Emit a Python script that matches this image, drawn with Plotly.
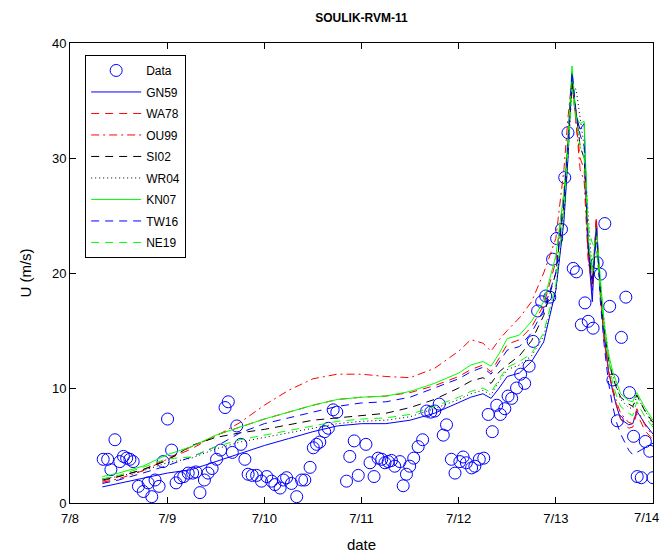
import pandas as pd
import plotly.graph_objects as go

# Model time grid: hours after 2013-07-08 00:00
hours = [8, 12, 18, 24, 30, 36, 42, 48, 54, 60,
         66, 72, 78, 84, 90, 96, 99, 102, 104, 106,
         108, 111, 114, 117, 120, 122, 123, 124, 125, 126,
         127, 128, 129, 130, 131, 132, 133, 134, 135, 136,
         138, 139, 140, 142, 144]

gn59 = [1.4, 1.7, 2.2, 2.6, 2.9, 3.6, 4.3, 5.0, 5.6, 6.2,
        6.7, 6.9, 6.9, 7.2, 7.8, 8.7, 9.2, 9.5, 9.1, 10.0,
        11.0, 11.3, 12.3, 14.0, 18.5, 24.5, 30.0, 37.5, 33.5, 32.5,
        33.0, 22.0, 17.5, 24.5, 18.5, 14.5, 11.5, 9.8, 8.4, 7.3,
        6.8, 6.9, 8.0, 6.9, 6.0]
wa78 = [1.9, 2.3, 2.9, 3.8, 4.7, 5.9, 6.6, 7.3, 7.9, 8.5,
        9.0, 9.2, 9.3, 9.6, 10.2, 11.0, 11.6, 12.0, 11.4, 12.6,
        13.8, 14.2, 15.3, 17.2, 21.0, 27.0, 32.0, 36.5, 33.0, 30.0,
        29.0, 21.5, 18.5, 24.8, 18.0, 14.0, 11.5, 10.0, 8.5, 7.3,
        6.5, 6.6, 7.8, 6.3, 5.5]
ou99 = [1.8, 2.1, 2.8, 3.8, 4.9, 5.8, 7.0, 8.5, 9.8, 10.8,
        11.2, 11.2, 11.0, 10.9, 11.7, 13.2, 14.2, 13.9, 13.2, 14.2,
        15.0, 16.1, 17.5, 20.0, 23.0, 29.0, 33.5, 37.0, 33.0, 29.0,
        28.0, 21.0, 19.0, 24.8, 18.0, 14.0, 11.5, 10.0, 8.8, 7.8,
        7.0, 6.9, 8.2, 6.8, 5.8]
si02 = [2.0, 2.3, 2.9, 3.7, 5.0, 5.7, 6.1, 6.4, 6.8, 7.2,
        7.4, 7.6, 7.8, 8.3, 9.0, 10.0, 10.6, 10.9, 10.4, 11.4,
        12.0, 12.8, 14.1, 16.3, 20.0, 26.0, 31.0, 36.5, 34.0, 31.0,
        30.0, 22.5, 19.0, 23.5, 18.5, 15.0, 12.5, 11.0, 10.0, 9.2,
        8.6, 8.4, 9.4, 8.0, 7.0]
wr04 = [2.1, 2.3, 2.8, 3.5, 3.9, 4.7, 5.3, 5.7, 6.1, 6.5,
        6.9, 7.1, 7.2, 7.5, 8.2, 9.0, 9.5, 9.8, 9.4, 10.6,
        11.6, 12.0, 12.8, 14.5, 18.5, 25.0, 30.0, 36.0, 36.0, 33.5,
        31.0, 25.0, 20.0, 23.5, 19.0, 15.5, 13.0, 11.2, 10.0, 9.0,
        8.3, 8.2, 9.3, 8.0, 6.8]
kn07 = [2.3, 2.6, 3.2, 4.2, 4.9, 5.9, 6.6, 7.3, 7.9, 8.5,
        9.0, 9.2, 9.3, 9.7, 10.4, 11.3, 12.0, 12.3, 11.9, 13.0,
        14.3, 14.6, 15.8, 17.5, 21.5, 27.0, 31.5, 38.0, 33.5, 33.0,
        33.2, 23.0, 20.0, 24.0, 19.5, 15.5, 13.0, 11.5, 10.5, 9.5,
        8.9, 8.8, 9.6, 8.3, 7.2]
tw16 = [1.7, 2.0, 2.6, 3.25, 4.0, 4.9, 6.1, 6.9, 7.4, 7.9,
        8.4, 8.7, 8.8, 9.2, 10.0, 10.8, 11.4, 11.8, 11.2, 12.3,
        13.3, 13.6, 14.8, 16.8, 20.0, 26.5, 31.5, 37.5, 34.0, 32.0,
        31.0, 22.5, 18.5, 24.0, 17.5, 13.5, 10.5, 8.5, 7.0, 6.0,
        4.6, 4.2, 4.4, 4.8, 5.2]
ne19 = [2.1, 2.4, 3.1, 3.85, 4.0, 4.9, 5.5, 5.9, 6.3, 6.7,
        7.1, 7.3, 7.4, 7.7, 8.4, 9.2, 9.7, 10.0, 9.6, 10.8,
        11.8, 12.3, 13.0, 14.8, 19.0, 25.5, 30.5, 36.0, 33.5, 31.0,
        30.0, 24.0, 22.6, 22.0, 18.5, 15.0, 12.5, 10.5, 9.3, 8.4,
        7.8, 7.6, 8.8, 7.5, 6.6]

# Observed wind speed (hours after 2013-07-08 00:00, m/s)
obs_hours = [8.2, 9.3, 10.1, 11.1, 12.3, 13.2, 14.0, 14.8, 15.6, 16.9,
             18.1, 19.3, 20.2, 21.0, 22.0, 23.0, 24.1, 25.1, 26.2, 27.2,
             28.1, 29.2, 30.3, 31.1, 32.1, 33.2, 34.1, 35.1, 36.2, 37.2,
             38.3, 39.1, 40.1, 41.2, 42.2, 43.2, 44.0, 45.0, 46.1, 47.3,
             48.6, 49.8, 50.6, 51.9, 52.7, 53.5, 54.7, 56.0, 57.2, 58.0,
             59.3, 60.1, 60.9, 61.7, 62.9, 63.8, 65.0, 65.9, 68.3, 69.1,
             70.2, 71.2, 73.1, 74.1, 75.1, 76.1, 77.0, 77.8, 78.6, 79.4,
             80.2, 81.5, 82.3, 83.1, 83.9, 84.9, 86.0, 87.1, 88.1, 89.1,
             90.1, 91.2, 92.2, 93.0, 94.2, 95.1, 96.3, 97.1, 97.9, 99.2,
             100.0, 101.1, 102.2, 103.3, 104.3, 105.4, 106.3, 107.4, 108.2, 109.1,
             110.3, 111.3, 112.3, 113.4, 114.4, 115.5, 116.5, 117.5, 118.5, 119.2,
             120.2, 121.4, 122.2, 123.0, 124.3, 125.1, 126.3, 127.2, 128.0, 129.2,
             130.2, 131.0, 132.1, 133.3, 134.1, 135.2, 136.2, 137.3, 138.2, 139.2,
             140.1, 141.1, 142.1, 143.2, 144.0]
obs_speed = [3.8, 3.8, 2.9, 5.5, 3.6, 4.05, 3.9, 3.8, 3.6, 1.45,
             1.0, 1.75, 0.55, 2.0, 1.45, 3.6, 7.3, 4.6, 1.75, 2.2,
             2.3, 2.6, 2.6, 2.7, 0.9, 2.0, 2.6, 3.0, 3.8, 4.6,
             8.3, 8.8, 4.4, 6.7, 5.1, 3.8, 2.5, 2.4, 2.4, 1.9,
             2.3, 1.9, 1.6, 1.3, 2.0, 2.2, 1.7, 0.55, 2.0, 2.0,
             3.1, 4.8, 5.1, 5.3, 6.2, 6.5, 8.1, 7.9, 1.9, 4.05,
             5.4, 2.4, 5.1, 3.5, 2.3, 3.9, 3.8, 3.5, 3.6, 3.7,
             3.2, 3.6, 1.5, 2.5, 3.2, 3.9, 4.9, 5.5, 8.0, 7.9,
             8.0, 8.6, 5.9, 6.8, 3.8, 2.6, 3.6, 4.0, 3.5, 3.05,
             3.2, 3.8, 3.9, 7.7, 6.2, 8.5, 7.7, 8.2, 9.3, 9.1,
             10.0, 11.2, 10.4, 11.9, 14.05, 16.7, 17.5, 18.0, 17.9, 21.2,
             23.0, 23.8, 28.3, 32.2, 20.4, 20.1, 15.5, 17.4, 15.8, 15.2,
             20.9, 19.9, 24.3, 17.1, 10.7, 7.15, 14.4, 17.9, 9.6, 5.8,
             2.3, 2.2, 5.35, 4.5, 2.2]

tick_dates = ["2013-07-08", "2013-07-09", "2013-07-10", "2013-07-11",
              "2013-07-12", "2013-07-13", "2013-07-14"]
tick_text = ["7/8", "7/9", "7/10", "7/11", "7/12", "7/13", "7/14"]
y_ticks = [0, 10, 20, 30, 40]

base = pd.Timestamp("2013-07-08")
t_model = base + pd.to_timedelta(hours, unit="h")
t_obs = base + pd.to_timedelta(obs_hours, unit="h")

models = [
    ("GN59", gn59, "#0000ff", "solid"),
    ("WA78", wa78, "#ff0000", "8px,6px"),
    ("OU99", ou99, "#ff0000", "8px,4px,2px,4px"),
    ("SI02", si02, "#000000", "8px,6px"),
    ("WR04", wr04, "#000000", "1px,3px"),
    ("KN07", kn07, "#00ff00", "solid"),
    ("TW16", tw16, "#0000ff", "8px,6px"),
    ("NE19", ne19, "#00ff00", "8px,6px"),
]

fig = go.Figure()
fig.add_trace(go.Scatter(
    x=t_obs, y=obs_speed, mode="markers", name="Data", legendgroup="Data",
    marker=dict(symbol="circle-open", size=12, color="#0000ff",
                line=dict(width=1, color="#0000ff")),
))
for name, vals, color, dash in models:
    fig.add_trace(go.Scatter(
        x=t_model, y=vals, mode="lines", name=name, legendgroup=name,
        line=dict(color=color, width=1, dash=dash),
    ))

font_family = "Liberation Sans, Arial, sans-serif"
axis_font = dict(family=font_family, size=13, color="#000000")

# The last date label sits at the right edge of the figure; it is placed
# as an annotation so it stays inside the page instead of being dropped.
edge_labels = [dict(
    text=tick_text[-1], x=tick_dates[-1], xref="x", xanchor="right", xshift=8,
    y=0, yref="paper", yanchor="top", yshift=-5, showarrow=False,
    font=axis_font,
)]

fig.update_layout(
    width=662, height=554,
    margin=dict(l=70, r=9, t=43, b=51),
    paper_bgcolor="white", plot_bgcolor="white",
    font=axis_font,
    title=dict(text="<b>SOULIK-RVM-11</b>", x=0.5, xref="paper",
               y=1 - 18 / 554, yanchor="middle",
               font=dict(family=font_family, size=12, color="#000000")),
    showlegend=True,
    legend=dict(x=0.026, y=0.974, xanchor="left", yanchor="top",
                bgcolor="white", bordercolor="#000000", borderwidth=1,
                font=dict(family=font_family, size=12, color="#000000"),
                itemwidth=50, tracegroupgap=2.5),
    annotations=edge_labels,
)
fig.update_xaxes(
    type="date", range=[tick_dates[0], tick_dates[-1]],
    tickvals=tick_dates, ticktext=tick_text[:-1] + [""],
    ticks="inside", ticklen=6, tickcolor="#000000",
    showline=True, linecolor="#000000", linewidth=1, mirror="ticks",
    showgrid=False, zeroline=False, tickfont=axis_font,
    ticklabelstandoff=3, automargin=False,
    title=dict(text="date", font=dict(family=font_family, size=15, color="#000000"),
               standoff=14),
)
fig.update_yaxes(
    range=[0, 40], tickvals=y_ticks,
    ticks="inside", ticklen=6, tickcolor="#000000",
    showline=True, linecolor="#000000", linewidth=1, mirror="ticks",
    showgrid=False, zeroline=False, tickfont=axis_font, automargin=False,
    title=dict(text="U (m/s)", font=dict(family=font_family, size=15, color="#000000"),
               standoff=16),
)

fig.write_html("out.html")
